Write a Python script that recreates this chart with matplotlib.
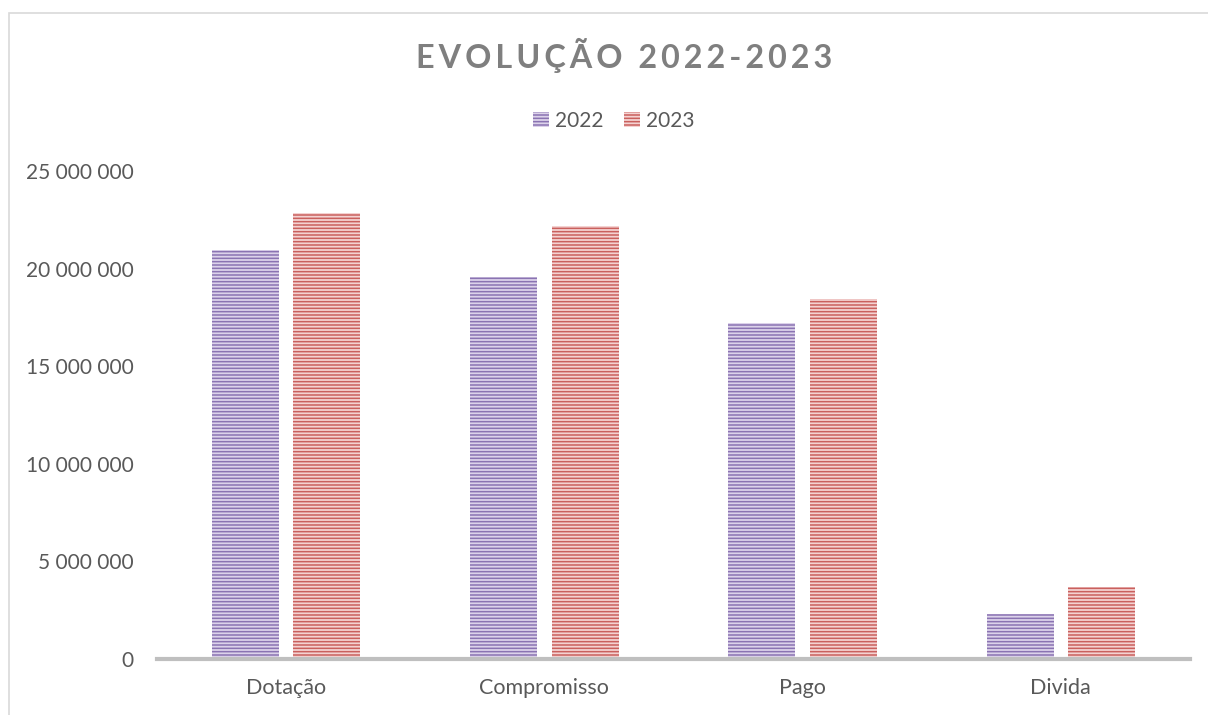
import matplotlib
matplotlib.use("Agg")
import matplotlib.pyplot as plt
from matplotlib.patches import Rectangle, Patch
import numpy as np

categories = ["Dotação", "Compromisso", "Pago", "Divida"]
series_names = ["2022", "2023"]
values_2022 = [20950000, 19570000, 17210000, 2300000]
values_2023 = [22850000, 22180000, 18440000, 3690000]
yticks = [0, 5000000, 10000000, 15000000, 20000000, 25000000]

plt.rcParams['font.family'] = ['Lato', 'DejaVu Sans']
plt.rcParams['hatch.linewidth'] = 1.1

W, H = 1208, 715
fig = plt.figure(figsize=(W/100, H/100), dpi=100)
ax = fig.add_axes([157/W, 1-659/H, (1190-157)/W, (659-171)/H])

x = np.arange(len(categories))
bw = 0.259
off = 0.158
face = ["#DCD2EA", "#F4D2D1"]
edge = ["#8A73B2", "#C9605D"]
for i, (vals, o) in enumerate([(values_2022, -off), (values_2023, off)]):
    ax.bar(x + o, vals, width=bw, facecolor=face[i], edgecolor=edge[i],
           hatch='-----', linewidth=0, label=series_names[i])

ax.set_xlim(-0.5, 3.5)
ax.set_ylim(0, 25000000)
ax.set_yticks(yticks)
ax.set_yticklabels([f"{v:,}".replace(",", " ") for v in yticks])
ax.set_xticks(x)
ax.set_xticklabels(categories)
ax.tick_params(axis='both', length=0, labelsize=15, colors="#595959")
ax.tick_params(axis='x', labelsize=15.5)
ax.tick_params(axis='y', pad=17)
ax.tick_params(axis='x', pad=14)
for s in ['top', 'right', 'left']:
    ax.spines[s].set_visible(False)
ax.spines['bottom'].set_color("#BFBFBF")
ax.spines['bottom'].set_linewidth(3)

title = "\u2009".join("EVOLUÇÃO") + "\u2009\u2009 " + "\u2009".join("2022-2023")
fig.text(624/W, 1-55/H, title, ha='center', va='center',
         fontsize=23.3, fontweight='bold', color="#7F7F7F")

handles = [Patch(facecolor=face[i], edgecolor=edge[i], hatch='-----', linewidth=0)
           for i in range(2)]
fig.legend(handles, series_names, loc='center', bbox_to_anchor=(614/W, 1-121/H),
           ncol=2, frameon=False, fontsize=15, labelcolor="#595959",
           handlelength=0.75, handleheight=0.75, handletextpad=0.3, columnspacing=1.0)

fig.patches.append(Rectangle((9/W, -0.1), 1.2, 1-13/H+0.1, transform=fig.transFigure,
                             fill=False, edgecolor="#D9D9D9", linewidth=1.2))

fig.savefig("out.png", dpi=100)
